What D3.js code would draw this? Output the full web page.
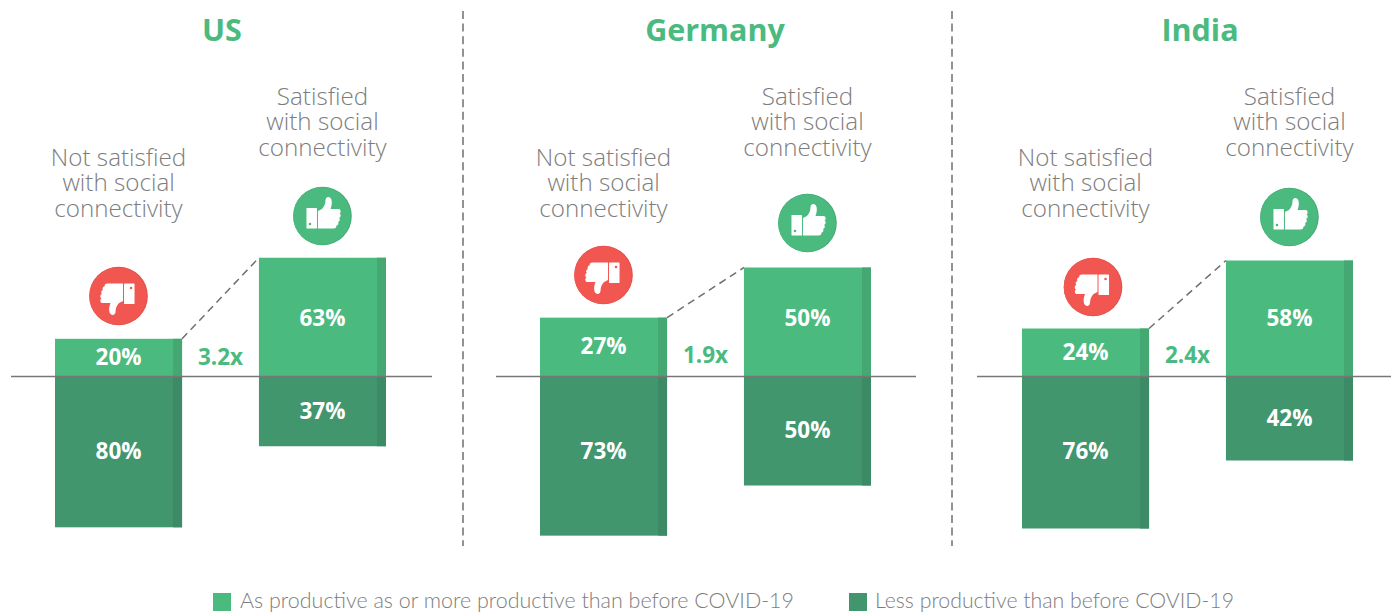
<!DOCTYPE html>
<html>
<head>
<meta charset="utf-8">
<script src="https://cdn.jsdelivr.net/npm/d3@7"></script>
<style>
  html, body { margin: 0; padding: 0; background: #fff; }
  svg { display: block; }
  text { font-family: "Open Sans", sans-serif; }
</style>
</head>
<body>
<svg id="chart" width="1391" height="613"></svg>
<script>
// Share of workers by satisfaction with social connectivity, per country
const countries = ["US", "Germany", "India"];
const groups = ["Not satisfied", "Satisfied"];
const productive = [[20, 63], [27, 50], [24, 58]];
const lessProductive = [[80, 37], [73, 50], [76, 42]];
const ratios = ["3.2x", "1.9x", "2.4x"];
const groupLabels = [
  ["Not satisfied", "with social", "connectivity"],
  ["Satisfied", "with social", "connectivity"]
];
const legendLabels = [
  "As productive as or more productive than before COVID-19",
  "Less productive than before COVID-19"
];

// Layout of the three panels
const panelLeft = [55, 540, 1022];
const panelWidth = 331;
const pxPerPoint = [1.885, 2.18, 2.0];
const titleX = [222, 715, 1200];
const ruleSpan = [[11, 432], [496, 916], [977, 1391]];
const iconY = [[296, 216], [275, 223], [287, 217]];
const iconDx = [[0, 0], [0, 0], [7.5, 0]];
const upLabelY = [[357, 318], [346, 318], [352, 318]];
const downLabelY = [[451, 411], [451, 430], [451, 418]];
const ratioY = [357, 355, 355];
const separators = [463, 952];
const baselineY = 376.5;
const labelTop = [166, 105];

const GREEN = "#4bba7f", GREEN_EDGE = "#45a872";
const DARK = "#41966e", DARK_EDGE = "#3d8a66";
const RED = "#f15651", RED_EDGE = "#e04f4b";
const GREY = "#7d7d7d";

const svg = d3.select("#chart");

// Separators between panels
svg.selectAll("line.sep").data(separators).join("line")
  .attr("class", "sep")
  .attr("x1", d => d).attr("x2", d => d)
  .attr("y1", 11).attr("y2", 546)
  .attr("stroke", "#6f6f6f").attr("stroke-width", 1.5)
  .attr("stroke-dasharray", "8 4.6");

// Hand glyph drawn pointing up; rotated for the thumbs-down badge
const handPath = "M-4.5,-5 L-0.5,-7 C1.5,-9 3,-12 3,-15.5 C3,-19 6,-20 8,-18 C10.2,-15.5 9.4,-10.5 8,-7 " +
  "L16,-7 C18.6,-7 18.8,-3.2 17,-2.4 C18.8,-1.6 18.6,1.4 16.6,2 C18,3 17.4,5.6 15.6,6 " +
  "C16.6,7.4 15.6,9.6 13.8,9.8 C14.2,11.2 13.2,12.6 11,12.6 L-4.5,12.6 Z";

function drawBadge(g, cx, cy, up) {
  const fill = up ? GREEN : RED;
  const edge = up ? GREEN_EDGE : RED_EDGE;
  const badge = g.append("g").attr("transform", `translate(${cx},${cy})`);
  badge.append("circle").attr("r", 29.3).attr("fill", edge);
  badge.append("circle").attr("r", 28.8).attr("cx", -0.5).attr("fill", fill);
  const hand = badge.append("g").attr("transform", up ? "translate(0,0)" : "rotate(180)");
  hand.append("rect").attr("x", -16).attr("y", -8).attr("width", 10.5).attr("height", 20.6)
    .attr("rx", 0.6).attr("fill", "#fff");
  hand.append("circle").attr("cx", -12.5).attr("cy", 8).attr("r", 1.3).attr("fill", fill);
  hand.append("path").attr("d", handPath).attr("fill", "#fff");
}

countries.forEach((country, i) => {
  const g = svg.append("g");

  const x = d3.scaleBand().domain(groups)
    .range([panelLeft[i], panelLeft[i] + panelWidth])
    .paddingInner(0.377).paddingOuter(0);
  const y = d3.scaleLinear().domain([0, 100])
    .range([baselineY, baselineY + 100 * pxPerPoint[i]]);
  const yUp = v => 2 * baselineY - y(v);
  const edgeW = 9;

  // Country heading
  g.append("text").text(country)
    .attr("x", titleX[i]).attr("y", 40.5)
    .attr("text-anchor", "middle")
    .attr("font-size", 30.5).attr("font-weight", 700).attr("fill", GREEN);

  groups.forEach((group, j) => {
    const left = x(group), w = x.bandwidth(), mid = left + w / 2;
    const up = productive[i][j], down = lessProductive[i][j];

    // Upper and lower stacks, each with a darker strip on its right edge
    g.append("rect").attr("x", left).attr("y", yUp(up)).attr("width", w)
      .attr("height", baselineY - yUp(up)).attr("fill", GREEN);
    g.append("rect").attr("x", left + w - edgeW).attr("y", yUp(up)).attr("width", edgeW)
      .attr("height", baselineY - yUp(up)).attr("fill", GREEN_EDGE);
    g.append("rect").attr("x", left).attr("y", baselineY).attr("width", w)
      .attr("height", y(down) - baselineY).attr("fill", DARK);
    g.append("rect").attr("x", left + w - edgeW).attr("y", baselineY).attr("width", edgeW)
      .attr("height", y(down) - baselineY).attr("fill", DARK_EDGE);

    // Value labels
    g.append("text").text(up + "%")
      .attr("x", mid).attr("y", upLabelY[i][j])
      .attr("dy", "0.36em").attr("text-anchor", "middle")
      .attr("font-size", 22.5).attr("font-weight", 700).attr("fill", "#fff");
    g.append("text").text(down + "%")
      .attr("x", mid).attr("y", downLabelY[i][j])
      .attr("dy", "0.36em").attr("text-anchor", "middle")
      .attr("font-size", 22.5).attr("font-weight", 700).attr("fill", "#fff");

    // Three-line group caption
    const caption = g.append("text")
      .attr("text-anchor", "middle")
      .attr("font-size", 24.2).attr("font-weight", 300).attr("fill", GREY);
    groupLabels[j].forEach((line, k) => {
      caption.append("tspan").text(line)
        .attr("x", mid).attr("y", labelTop[j] + k * 25.3);
    });

    drawBadge(g, mid + iconDx[i][j], iconY[i][j], j === 1);
  });

  // Baseline across the panel
  g.append("line")
    .attr("x1", ruleSpan[i][0]).attr("x2", ruleSpan[i][1])
    .attr("y1", baselineY).attr("y2", baselineY)
    .attr("stroke", "#777").attr("stroke-width", 1.3);

  // Dashed connector between the tops of the two upper stacks
  const [a, b] = groups;
  g.append("line")
    .attr("x1", x(a) + x.bandwidth()).attr("y1", yUp(productive[i][0]))
    .attr("x2", x(b)).attr("y2", yUp(productive[i][1]))
    .attr("stroke", "#6f6f6f").attr("stroke-width", 1.5)
    .attr("stroke-dasharray", "7.5 5");

  // Ratio between the two groups
  g.append("text").text(ratios[i])
    .attr("x", (x(a) + x.bandwidth() + x(b)) / 2).attr("y", ratioY[i])
    .attr("dy", "0.36em").attr("text-anchor", "middle")
    .attr("font-size", 22.5).attr("font-weight", 700).attr("fill", GREEN);
});

// Legend
const legendX = [213, 849], legendTextX = [240, 875], legendTextW = [554, 359];
const legend = svg.selectAll("g.key").data(legendLabels).join("g").attr("class", "key");
legend.append("rect")
  .attr("x", (d, i) => legendX[i]).attr("y", 593)
  .attr("width", 18).attr("height", 18)
  .attr("fill", (d, i) => i ? DARK : GREEN);
legend.append("text").text(d => d)
  .attr("x", (d, i) => legendTextX[i]).attr("y", 608.4)
  .attr("textLength", (d, i) => legendTextW[i]).attr("lengthAdjust", "spacingAndGlyphs")
  .attr("font-family", "Lato, sans-serif").style("font-family", "Lato, sans-serif")
  .attr("font-size", 21).attr("font-weight", 300).attr("fill", GREY);
</script>
</body>
</html>
